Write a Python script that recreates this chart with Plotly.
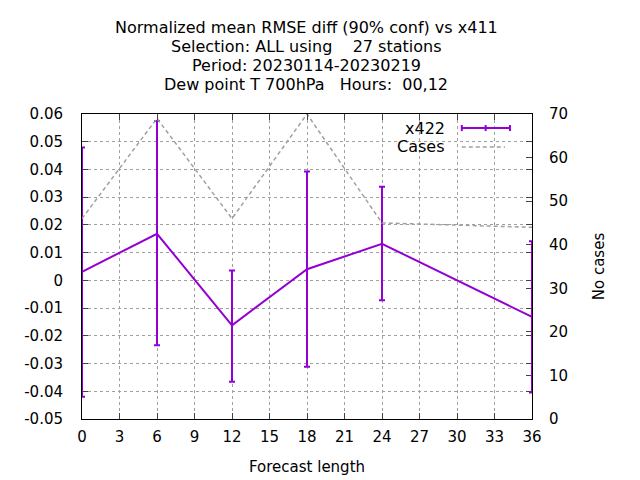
import plotly.graph_objects as go

# forecast lengths (hours)
lead = [0, 6, 12, 18, 24, 36]
# normalized mean RMSE diff x422 vs x411
rmse_diff = [0.0031, 0.0168, -0.0162, 0.0040, 0.0132, -0.0132]
err_hi = [0.0479, 0.0575, 0.0036, 0.0393, 0.0338, 0.0141]
err_lo = [-0.0420, -0.0234, -0.0366, -0.0312, -0.0072, -0.0404]
# number of cases
cases = [46, 69, 46, 70, 45, 44]

x_ticks = list(range(0, 37, 3))
y_ticks = [round(-0.05 + 0.01 * i, 2) for i in range(12)]
y_tick_labels = ["%g" % v for v in y_ticks]
y2_ticks = list(range(0, 71, 10))

title_lines = ["Normalized mean RMSE diff (90% conf) vs x411",
               "Selection: ALL using    27 stations",
               "Period: 20230114-20230219",
               "Dew point T 700hPa   Hours:  00,12"]

purple = "#9400D3"
grey = "#a0a0a0"
font = "DejaVu Sans"

plus = [h - v for h, v in zip(err_hi, rmse_diff)]
minus = [v - l for l, v in zip(err_lo, rmse_diff)]

fig = go.Figure()

fig.add_trace(go.Scatter(
    x=lead, y=cases, yaxis="y2", mode="lines", name="Cases",
    line=dict(color=grey, width=1.5, dash="4px,3px"),
))

fig.add_trace(go.Scatter(
    x=lead, y=rmse_diff, mode="lines", name="x422",
    line=dict(color=purple, width=2),
    error_y=dict(type="data", array=plus, arrayminus=minus,
                 color=purple, thickness=2, width=3),
))

grid = dict(showgrid=True, gridcolor="#a0a0a0", griddash="dot", gridwidth=1)
tickfont = dict(size=15)

fig.update_layout(
    width=640, height=480,
    paper_bgcolor="white", plot_bgcolor="white",
    font=dict(family=font, size=16, color="black"),
    margin=dict(l=74, r=116, t=106, b=69, autoexpand=False),
    showlegend=False,
    xaxis=dict(range=[0, 36], tickvals=x_ticks, ticks="inside", ticklen=6,
               showline=True, linecolor="black", linewidth=1, mirror="ticks",
               automargin=False, ticklabelstandoff=4, tickfont=tickfont,
               title=dict(text="Forecast length", standoff=16, font=dict(size=15)),
               zeroline=False, **grid),
    yaxis=dict(range=[-0.05, 0.06], tickvals=y_ticks, ticktext=y_tick_labels,
               ticks="inside", ticklen=6, showline=True, linecolor="black",
               linewidth=1, mirror="ticks", zeroline=False, automargin=False,
               ticklabelstandoff=15, tickfont=tickfont, **grid),
    yaxis2=dict(range=[0, 70], tickvals=y2_ticks, overlaying="y", side="right",
                ticks="inside", ticklen=6, showgrid=False, zeroline=False,
                automargin=False, ticklabelstandoff=16, tickfont=tickfont,
                title=dict(text="No cases", standoff=26, font=dict(size=15))),
)

# four-line title, gnuplot style
for i, line in enumerate(title_lines):
    fig.add_annotation(x=0.498, y=1.285 - 0.0623 * i, xref="paper", yref="paper",
                       text=line, showarrow=False, xanchor="center",
                       yanchor="middle", font=dict(size=16))

# gnuplot-style key, top right inside the plot
fig.add_annotation(x=0.811, y=0.954, xref="paper", yref="paper", text="x422",
                   showarrow=False, xanchor="right", yanchor="middle")
fig.add_annotation(x=0.811, y=0.892, xref="paper", yref="paper", text="Cases",
                   showarrow=False, xanchor="right", yanchor="middle")
fig.add_shape(type="line", xref="paper", yref="paper", x0=0.844, x1=0.951,
              y0=0.954, y1=0.954, line=dict(color=purple, width=2))
for xp in (0.844, 0.897, 0.951):
    fig.add_shape(type="line", xref="paper", yref="paper", x0=xp, x1=xp,
                  y0=0.944, y1=0.964, line=dict(color=purple, width=2))
fig.add_shape(type="line", xref="paper", yref="paper", x0=0.844, x1=0.94,
              y0=0.892, y1=0.892, line=dict(color=grey, width=1.5, dash="4px,3px"))

fig.write_html("out.html")
